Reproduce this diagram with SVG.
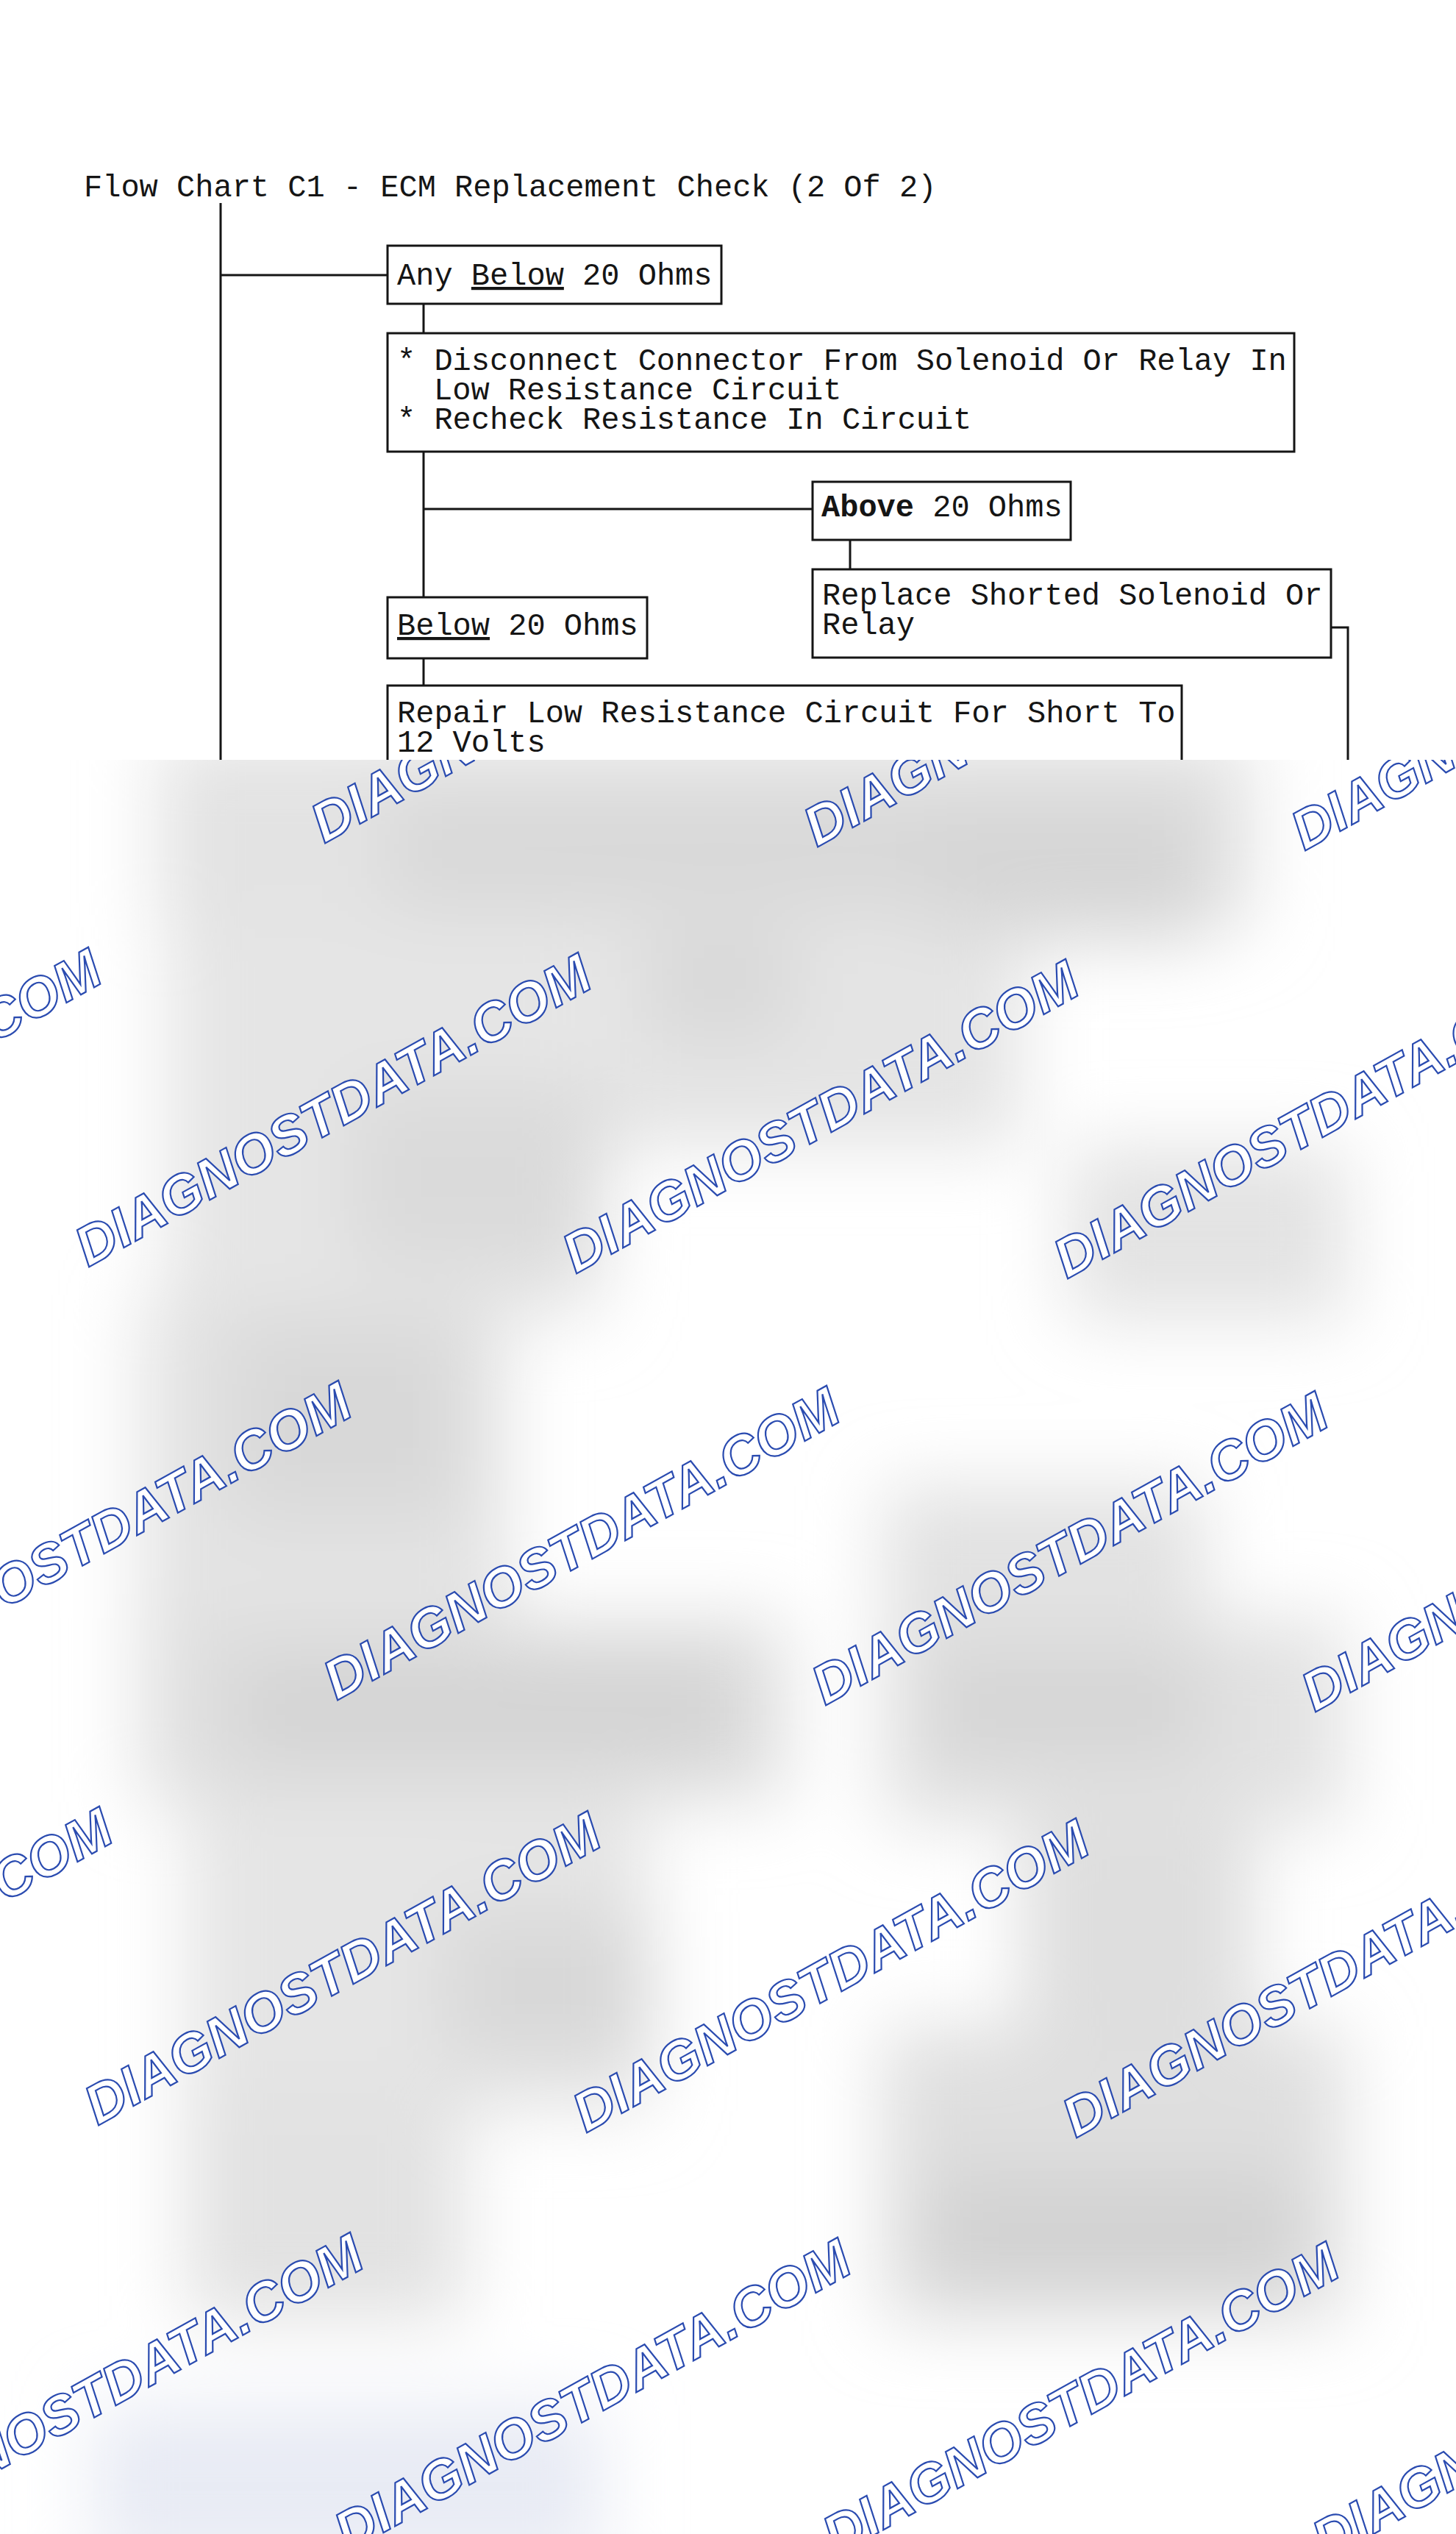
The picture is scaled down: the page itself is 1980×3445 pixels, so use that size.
<svg xmlns="http://www.w3.org/2000/svg" width="1980" height="3445" viewBox="0 0 1980 3445">
<style>
.t{font-family:"Liberation Mono","DejaVu Sans Mono",monospace;font-size:42px;fill:#151515}
.b{font-weight:bold}
.u{text-decoration:underline}
.box{fill:#ffffff;stroke:#151515;stroke-width:3}
.ln{fill:none;stroke:#151515;stroke-width:3}
.wm{font-family:"Liberation Sans",Arial,sans-serif;font-size:75px;font-weight:bold;font-style:italic;fill:#ffffff;stroke:#2a4bb0;stroke-width:2.2}
</style>
<defs>
<clipPath id="top"><rect x="0" y="0" width="1980" height="1033"/></clipPath>
<clipPath id="bot"><rect x="0" y="1033" width="1980" height="2412"/></clipPath>
<filter id="blur" filterUnits="userSpaceOnUse" x="-300" y="700" width="2600" height="3000">
<feGaussianBlur stdDeviation="50"/>
</filter>
</defs>
<rect x="0" y="0" width="1980" height="3445" fill="#ffffff"/>
<g id="chart" clip-path="url(#top)">
<text id="title" class="t" x="114" y="267">Flow Chart C1 - ECM Replacement Check (2 Of 2)</text>
<g id="connectors">
<path class="ln" d="M300,276 V1040"/>
<path class="ln" d="M300,374 H527"/>
<path class="ln" d="M576,413 V453"/>
<path class="ln" d="M576,614 V812"/>
<path class="ln" d="M576,692 H1105"/>
<path class="ln" d="M1156,734 V774"/>
<path class="ln" d="M1810,853 H1833 V1040"/>
<path class="ln" d="M576,895 V932"/>
</g>
<g id="node-any-below">
<rect class="box" x="527" y="334" width="454" height="79"/>
<text class="t" x="540" y="387">Any <tspan class="u">Below</tspan> 20 Ohms</text>
</g>
<g id="node-disconnect">
<rect class="box" x="527" y="453" width="1233" height="161"/>
<text class="t" x="540" y="503">* Disconnect Connector From Solenoid Or Relay In</text>
<text class="t" x="590" y="543">Low Resistance Circuit</text>
<text class="t" x="540" y="583">* Recheck Resistance In Circuit</text>
</g>
<g id="node-above">
<rect class="box" x="1105" y="655" width="351" height="79"/>
<text class="t" x="1117" y="702"><tspan class="b">Above</tspan> 20 Ohms</text>
</g>
<g id="node-replace">
<rect class="box" x="1105" y="774" width="705" height="120"/>
<text class="t" x="1118" y="822">Replace Shorted Solenoid Or</text>
<text class="t" x="1118" y="862">Relay</text>
</g>
<g id="node-below">
<rect class="box" x="527" y="812" width="353" height="83"/>
<text class="t" x="540" y="863"><tspan class="u">Below</tspan> 20 Ohms</text>
</g>
<g id="node-repair">
<rect class="box" x="527" y="932" width="1080" height="160"/>
<text class="t" x="540" y="982">Repair Low Resistance Circuit For Short To</text>
<text class="t" x="540" y="1022">12 Volts</text>
</g>
</g>
<g id="blurred" clip-path="url(#bot)">
<g filter="url(#blur)">
<rect x="215" y="1000" width="1490" height="260" fill="#e3e3e3"/>
<rect x="530" y="1080" width="730" height="150" fill="#d8d8d8"/>
<rect x="1262" y="1080" width="380" height="200" fill="#d6d6d6"/>
<rect x="227" y="1260" width="590" height="530" fill="#e5e5e5"/>
<rect x="480" y="1480" width="340" height="240" fill="#dadada"/>
<rect x="820" y="1260" width="570" height="300" fill="#e4e4e4"/>
<rect x="884" y="1260" width="190" height="150" fill="#d8d8d8"/>
<rect x="1452" y="1560" width="380" height="235" fill="#e3e3e3"/>
<rect x="190" y="1760" width="500" height="470" fill="#e3e3e3"/>
<rect x="316" y="1800" width="315" height="260" fill="#d8d8d8"/>
<rect x="1200" y="2020" width="440" height="200" fill="#e2e2e2"/>
<rect x="190" y="2200" width="880" height="250" fill="#e0e0e0"/>
<rect x="316" y="2250" width="690" height="150" fill="#d4d4d4"/>
<rect x="1200" y="2200" width="630" height="280" fill="#e2e2e2"/>
<rect x="1260" y="2240" width="380" height="160" fill="#d6d6d6"/>
<rect x="253" y="2440" width="630" height="430" fill="#e5e5e5"/>
<rect x="606" y="2600" width="280" height="200" fill="#d8d8d8"/>
<rect x="1389" y="2480" width="316" height="280" fill="#dedede"/>
<rect x="253" y="2835" width="380" height="320" fill="#e2e2e2"/>
<rect x="1200" y="2756" width="630" height="400" fill="#dfdfdf"/>
<rect x="1263" y="2955" width="500" height="160" fill="#d2d2d2"/>
<rect x="126" y="3270" width="694" height="220" fill="#e8ebf4"/>
</g>
</g>
<g id="watermarks" clip-path="url(#bot)">
<text class="wm" transform="translate(441,1147) rotate(-29)">DIAGNOSTDATA.COM</text>
<text class="wm" transform="translate(1111,1152) rotate(-29)">DIAGNOSTDATA.COM</text>
<text class="wm" transform="translate(1774,1157) rotate(-29)">DIAGNOSTDATA.COM</text>
<text class="wm" transform="translate(-546,1716) rotate(-29)">DIAGNOSTDATA.COM</text>
<text class="wm" transform="translate(120,1723) rotate(-29)">DIAGNOSTDATA.COM</text>
<text class="wm" transform="translate(783,1732) rotate(-29)">DIAGNOSTDATA.COM</text>
<text class="wm" transform="translate(1451,1739) rotate(-29)">DIAGNOSTDATA.COM</text>
<text class="wm" transform="translate(-206,2305) rotate(-29)">DIAGNOSTDATA.COM</text>
<text class="wm" transform="translate(458,2312) rotate(-29)">DIAGNOSTDATA.COM</text>
<text class="wm" transform="translate(1122,2319) rotate(-29)">DIAGNOSTDATA.COM</text>
<text class="wm" transform="translate(1788,2328) rotate(-29)">DIAGNOSTDATA.COM</text>
<text class="wm" transform="translate(-531,2884) rotate(-29)">DIAGNOSTDATA.COM</text>
<text class="wm" transform="translate(133,2890) rotate(-29)">DIAGNOSTDATA.COM</text>
<text class="wm" transform="translate(797,2900) rotate(-29)">DIAGNOSTDATA.COM</text>
<text class="wm" transform="translate(1463,2907) rotate(-29)">DIAGNOSTDATA.COM</text>
<text class="wm" transform="translate(-190,3463) rotate(-29)">DIAGNOSTDATA.COM</text>
<text class="wm" transform="translate(473,3470) rotate(-29)">DIAGNOSTDATA.COM</text>
<text class="wm" transform="translate(1137,3475) rotate(-29)">DIAGNOSTDATA.COM</text>
<text class="wm" transform="translate(1803,3481) rotate(-29)">DIAGNOSTDATA.COM</text>
</g>
</svg>
